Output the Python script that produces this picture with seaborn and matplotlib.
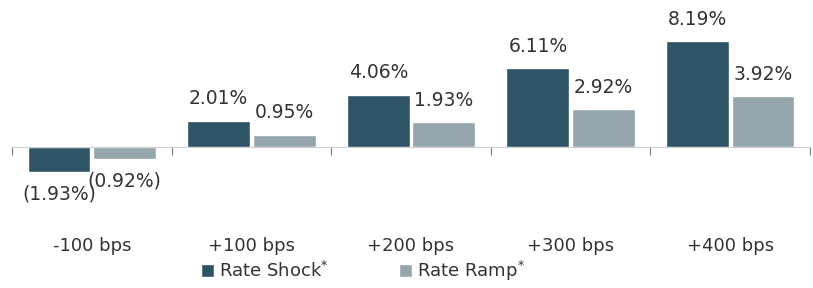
import matplotlib
matplotlib.use('Agg')
import matplotlib.pyplot as plt
import pandas as pd
import seaborn as sns

scenarios = ['-100 bps', '+100 bps', '+200 bps', '+300 bps', '+400 bps']
rate_shock = [-1.93, 2.01, 4.06, 6.11, 8.19]
rate_ramp = [-0.92, 0.95, 1.93, 2.92, 3.92]
series = ['Rate Shock', 'Rate Ramp']
colors = ['#2e5465', '#95a6ad']

data = pd.DataFrame({
    'scenario': scenarios * 2,
    'value': rate_shock + rate_ramp,
    'series': [series[0]] * len(scenarios) + [series[1]] * len(scenarios),
})

sns.set_style('white')
plt.rcParams['font.family'] = ['DejaVu Sans']
text_color = '#333333'

fig = plt.figure(figsize=(8.13, 2.88), dpi=100)
ax = fig.add_axes([12 / 813, 63 / 288, 798 / 813, 220 / 288])

sns.barplot(data=data, x='scenario', y='value', hue='series', order=scenarios,
            hue_order=series, palette=colors, width=0.82, gap=0.04,
            saturation=1, ax=ax)

ax.set_ylim(-6.05, 11.0)
ax.set_xlim(-0.5, len(scenarios) - 0.5)

def fmt(v):
    return '({:.2f}%)'.format(-v) if v < 0 else '{:.2f}%'.format(v)

for cont in ax.containers:
    ax.bar_label(cont, labels=[fmt(b.get_height()) for b in cont],
                 padding=9, fontsize=13.5, color=text_color)

for s in ['top', 'right', 'left']:
    ax.spines[s].set_visible(False)
ax.spines['bottom'].set_position(('data', 0))
ax.spines['bottom'].set_color('#cfcfcf')
ax.set_yticks([])
ax.set_xlabel('')
ax.set_ylabel('')
ax.tick_params(axis='x', which='major', length=0, pad=65, labelsize=13,
               labelcolor=text_color)
ax.set_xticks([i - 0.5 for i in range(len(scenarios) + 1)], minor=True)
ax.tick_params(axis='x', which='minor', length=6, width=0.8, color='#777777',
               direction='out', bottom=True)

handles, labels = ax.get_legend_handles_labels()
ax.legend(handles, [l + '$^{*}$' for l in labels], loc='upper center',
          bbox_to_anchor=(0.44, -0.105), bbox_transform=ax.transAxes, ncol=2,
          frameon=False, fontsize=13, handlelength=0.7, handleheight=0.7,
          handletextpad=0.3, columnspacing=3.9, labelcolor=text_color,
          borderpad=0.1)

fig.savefig('out.png', dpi=100)
